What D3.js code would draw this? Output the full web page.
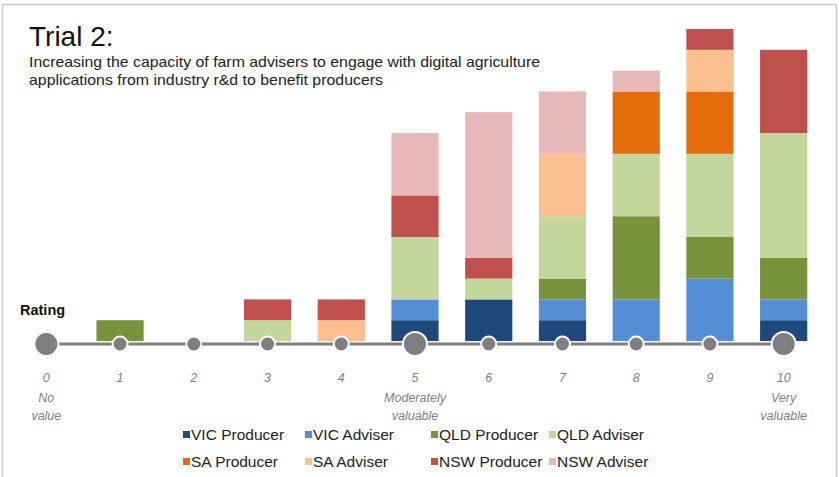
<!DOCTYPE html>
<html>
<head>
<meta charset="utf-8">
<script src="https://cdn.jsdelivr.net/npm/d3@7"></script>
<style>
  html, body { margin: 0; padding: 0; background: #fff; }
  #content { width: 839px; height: 477px; }
  text { font-family: "Liberation Sans", Arial, sans-serif; }
</style>
</head>
<body>
<div id="content"></div>
<script>
var width = 839;
var height = 477;

// ratings along the axis
var ratings = [0, 1, 2, 3, 4, 5, 6, 7, 8, 9, 10];
var ratingNotes = ['No value', '', '', '', '', 'Moderately valuable', '', '', '', '', 'Very valuable'];
var bigDots = [0, 5, 10];

// series, stacked bottom to top (counts of responses per rating)
var seriesNames = ['VIC Producer', 'VIC Adviser', 'QLD Producer', 'QLD Adviser',
                   'SA Producer', 'SA Adviser', 'NSW Producer', 'NSW Adviser'];
var seriesColors = ['#1f497d', '#558ed5', '#77933c', '#c3d69b',
                    '#e46c0a', '#fac090', '#c0504d', '#e6b9b8'];
var vicProducer = [0, 0, 0, 0, 0, 1, 2, 1, 0, 0, 1];
var vicAdviser  = [0, 0, 0, 0, 0, 1, 0, 1, 2, 3, 1];
var qldProducer = [0, 1, 0, 0, 0, 0, 0, 1, 4, 2, 2];
var qldAdviser  = [0, 0, 0, 1, 0, 3, 1, 3, 3, 4, 6];
var saProducer  = [0, 0, 0, 0, 0, 0, 0, 0, 3, 3, 0];
var saAdviser   = [0, 0, 0, 0, 1, 0, 0, 3, 0, 2, 0];
var nswProducer = [0, 0, 0, 1, 1, 2, 1, 0, 0, 1, 4];
var nswAdviser  = [0, 0, 0, 0, 0, 3, 7, 3, 1, 0, 0];

var seriesValues = [vicProducer, vicAdviser, qldProducer, qldAdviser,
                    saProducer, saAdviser, nswProducer, nswAdviser];

var table = ratings.map(function(r, i){
  var row = { rating: r };
  seriesNames.forEach(function(name, j){ row[name] = seriesValues[j][i]; });
  return row;
});

var svg = d3.select('div#content').append('svg')
  .attr('width', width)
  .attr('height', height);

// frame
svg.append('rect')
  .attr('x', 2.5).attr('y', 4.5)
  .attr('width', 834).attr('height', 480)
  .attr('fill', 'none')
  .attr('stroke', '#c8c8c8')
  .attr('stroke-width', 1.5);

var x = d3.scaleBand()
  .domain(ratings)
  .range([8, 822])
  .paddingInner(0.36)
  .paddingOuter(0.2);

var baseY = 341;
var y = d3.scaleLinear()
  .domain([0, 15])
  .range([baseY, 29]);

var stack = d3.stack().keys(seriesNames);
var layers = stack(table);

var groups = svg.append('g')
  .selectAll('g')
  .data(layers)
  .enter()
  .append('g')
  .attr('fill', function(d, i){ return seriesColors[i]; });

groups.selectAll('rect')
  .data(function(d){ return d; })
  .enter()
  .append('rect')
  .attr('x', function(d){ return x(d.data.rating); })
  .attr('width', x.bandwidth())
  .attr('y', function(d){ return y(d[1]); })
  .attr('height', function(d){ return y(d[0]) - y(d[1]); });

// rating axis: line with dots
var axisY = 344;
var cx = function(r){ return x(r) + x.bandwidth() / 2; };
svg.append('line')
  .attr('x1', cx(0)).attr('x2', cx(10))
  .attr('y1', axisY).attr('y2', axisY)
  .attr('stroke', '#7f7f7f')
  .attr('stroke-width', 3);

svg.append('g')
  .selectAll('circle')
  .data(ratings)
  .enter()
  .append('circle')
  .attr('cx', cx)
  .attr('cy', axisY)
  .attr('r', function(d){ return bigDots.indexOf(d) >= 0 ? 12 : 7.5; })
  .attr('fill', '#7f7f7f')
  .attr('stroke', '#fff')
  .attr('stroke-width', 2);

var labels = svg.append('g')
  .attr('font-style', 'italic')
  .attr('font-size', 12.5)
  .attr('fill', '#7f7f7f')
  .attr('text-anchor', 'middle');

labels.selectAll('text.num')
  .data(ratings)
  .enter()
  .append('text')
  .attr('class', 'num')
  .attr('x', cx)
  .attr('y', 382)
  .text(function(d){ return d; });

ratings.forEach(function(r, i){
  if(!ratingNotes[i]) return;
  var words = ratingNotes[i].split(' ');
  words.forEach(function(w, k){
    labels.append('text')
      .attr('x', cx(r))
      .attr('y', 402 + k * 18)
      .text(w);
  });
});

svg.append('text')
  .attr('x', 20)
  .attr('y', 315)
  .attr('font-size', 14.5)
  .attr('font-weight', 'bold')
  .attr('fill', '#111')
  .text('Rating');

// titles
svg.append('text')
  .attr('x', 29)
  .attr('y', 46)
  .attr('font-size', 28)
  .attr('fill', '#111')
  .text('Trial 2:');

var sub = ['Increasing the capacity of farm advisers to engage with digital agriculture',
           'applications from industry r&d to benefit producers'];
var subWidth = [511, 354];
svg.append('g')
  .selectAll('text')
  .data(sub)
  .enter()
  .append('text')
  .attr('x', 29)
  .attr('y', function(d, i){ return 67 + i * 18; })
  .attr('font-size', 15)
  .attr('textLength', function(d, i){ return subWidth[i]; })
  .attr('lengthAdjust', 'spacingAndGlyphs')
  .attr('fill', '#222')
  .text(function(d){ return d; });

// legend
var legendX = [183, 305, 431, 549];
var legend = svg.append('g')
  .selectAll('g')
  .data(seriesNames)
  .enter()
  .append('g')
  .attr('transform', function(d, i){
    return 'translate(' + legendX[i % 4] + ',' + (434 + Math.floor(i / 4) * 27) + ')';
  });
legend.append('rect')
  .attr('x', 0).attr('y', -3)
  .attr('width', 7).attr('height', 7)
  .attr('fill', function(d, i){ return seriesColors[i]; });
legend.append('text')
  .attr('x', 8)
  .attr('y', 6)
  .attr('font-size', 15.5)
  .attr('fill', '#222')
  .text(function(d){ return d; });
</script>
</body>
</html>
